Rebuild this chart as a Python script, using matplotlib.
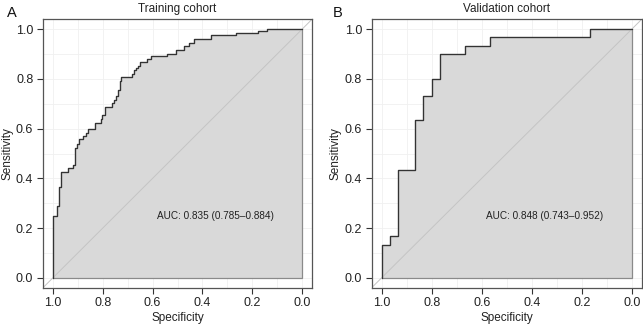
import matplotlib
matplotlib.use("Agg")
import matplotlib.pyplot as plt
import numpy as np

plt.rcParams['font.family'] = ['Liberation Sans', 'DejaVu Sans']

# ROC step points: specificity where sensitivity rises, and sensitivity after the rise
train_spec = [1.000, 0.983, 0.974, 0.966, 0.939, 0.919, 0.910, 0.903, 0.895, 0.879,
              0.869, 0.860, 0.832, 0.809, 0.803, 0.793, 0.761, 0.753, 0.745, 0.740,
              0.731, 0.727, 0.682, 0.675, 0.667, 0.659, 0.651, 0.622, 0.608, 0.544,
              0.508, 0.475, 0.452, 0.435, 0.365, 0.266, 0.176, 0.140]
train_sens = [0.250, 0.288, 0.366, 0.425, 0.440, 0.452, 0.523, 0.540, 0.560, 0.570,
              0.583, 0.600, 0.623, 0.637, 0.653, 0.688, 0.704, 0.717, 0.731, 0.757,
              0.790, 0.808, 0.818, 0.835, 0.845, 0.854, 0.868, 0.881, 0.892, 0.901,
              0.916, 0.932, 0.945, 0.959, 0.975, 0.983, 0.992, 1.000]

valid_spec = [1.000, 0.967, 0.933, 0.867, 0.833, 0.800, 0.767, 0.667, 0.567, 0.167]
valid_sens = [0.133, 0.167, 0.433, 0.633, 0.733, 0.800, 0.900, 0.933, 0.967, 1.000]

titles = ["Training cohort", "Validation cohort"]
panel_labels = ["A", "B"]
auc_texts = ["AUC: 0.835 (0.785\u20130.884)", "AUC: 0.848 (0.743\u20130.952)"]
ticks = [1.0, 0.8, 0.6, 0.4, 0.2, 0.0]


def roc_path(spec, sens):
    xs, ys = [1.0], [0.0]
    for i in range(len(spec)):
        xs.append(spec[i]); ys.append(sens[i])
        nxt = spec[i + 1] if i + 1 < len(spec) else 0.0
        xs.append(nxt); ys.append(sens[i])
    return np.array(xs), np.array(ys)


fig = plt.figure(figsize=(6.43, 3.29), dpi=100)
positions = [[43 / 643, 41.3 / 329, 269 / 643, 268.4 / 329],
             [371.7 / 643, 41.3 / 329, 270 / 643, 268.4 / 329]]
data = [(train_spec, train_sens), (valid_spec, valid_sens)]
letter_x = [7 / 643, 333 / 643]

for k in range(2):
    ax = fig.add_axes(positions[k])
    x, y = roc_path(*data[k])
    ax.set_xlim(1.04, -0.04)
    ax.set_ylim(-0.04, 1.04)
    for g in np.arange(0, 1.01, 0.1):
        ax.axvline(g, color='#f0f0f0', lw=0.6, zorder=0)
        ax.axhline(g, color='#f0f0f0', lw=0.6, zorder=0)
    poly_x = np.concatenate([x, [0.0, 1.0]])
    poly_y = np.concatenate([y, [0.0, 0.0]])
    ax.fill(poly_x, poly_y, facecolor='#d9d9d9', edgecolor='#8a8a8a', lw=0.9, zorder=1)
    ax.axline((1, 0), (0, 1), color='#c4c4c4', lw=0.7, zorder=2)
    ax.plot(x, y, color='#333333', lw=0.9, zorder=3)
    ax.text(0.347, 0.25, auc_texts[k], ha='center', va='center', fontsize=7.2, color='#222222')
    ax.set_xticks(ticks)
    ax.set_yticks(ticks)
    ax.set_xticklabels(["%.1f" % t for t in ticks])
    ax.set_yticklabels(["%.1f" % t for t in ticks])
    ax.tick_params(labelsize=9, length=4, width=0.8, color='#333333', pad=3, labelcolor='#222222')
    for s in ax.spines.values():
        s.set_color('#555555')
        s.set_linewidth(0.9)
    ax.set_xlabel("Specificity", fontsize=8.5, labelpad=2, color='#222222')
    ax.set_ylabel("Sensitivity", fontsize=8.5, labelpad=2, color='#222222')
    ax.set_title(titles[k], fontsize=8.5, pad=5, color='#222222')
    fig.text(letter_x[k], 0.962, panel_labels[k], fontsize=10.5, va='center', ha='left', color='#111111')

fig.savefig("out.png", dpi=100)
